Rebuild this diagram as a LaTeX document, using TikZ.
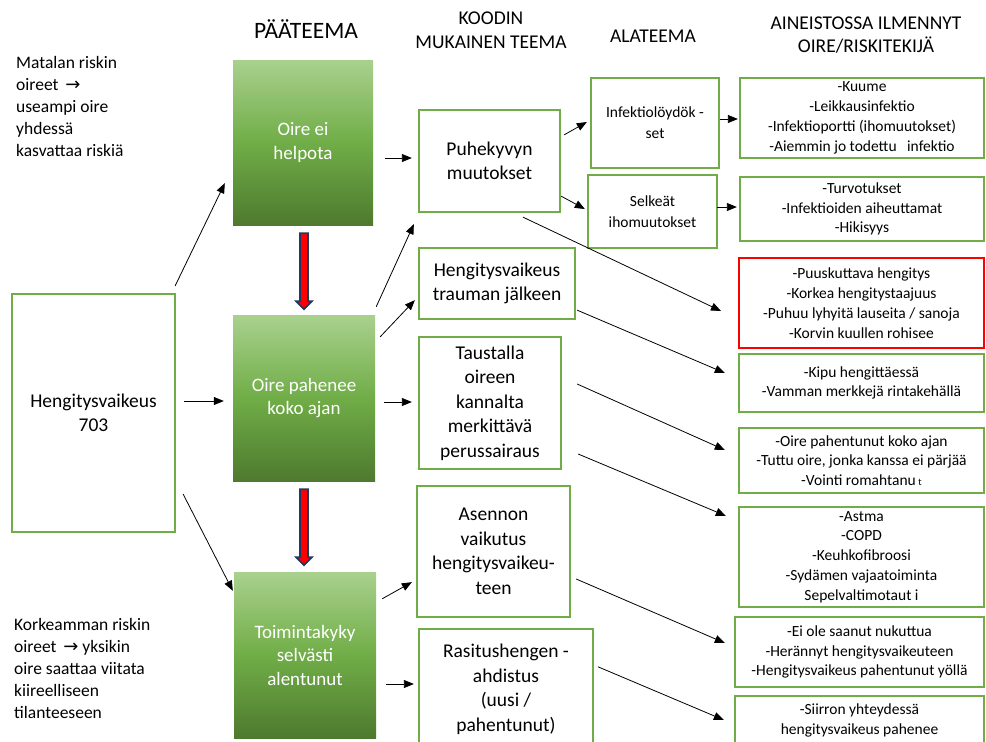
\documentclass[tikz,border=0pt]{standalone}
\usepackage{fontspec}
\setmainfont{Carlito}
\newfontfamily\symfont{DejaVu Sans}
\usetikzlibrary{arrows.meta,calc}
\definecolor{boxgreen}{HTML}{70AD47}
\definecolor{gtop}{HTML}{A9D18E}
\definecolor{gbot}{HTML}{4E7A2F}
\definecolor{navy}{HTML}{203864}
\newcommand{\rarr}{\,{\symfont\fontsize{18}{18}\selectfont →}}
\tikzset{
  gbox/.style={draw=boxgreen, line width=2.3pt, fill=white, align=center, inner sep=0pt},
  theme/.style={top color=gtop, bottom color=gbot, middle color=boxgreen, text=white,
    align=center, inner sep=0pt, font=\fontsize{19}{23.5}\selectfont},
  codebox/.style={gbox, font=\fontsize{19.5}{24.5}\selectfont},
  subbox/.style={gbox, font=\fontsize{15.5}{21}\selectfont},
  findbox/.style={gbox, font=\fontsize{15.5}{19.8}\selectfont},
  head/.style={align=center, inner sep=0pt, font=\fontsize{19.5}{23.5}\selectfont},
  note/.style={align=left, anchor=north west, inner sep=0pt, font=\fontsize{17.5}{22}\selectfont},
  arr/.style={-{Triangle[length=10pt,width=8pt]}, line width=0.8pt},
  blockarr/.style={fill=red, draw=navy, line width=1.6pt, line join=miter},
}
\begin{document}
\begin{tikzpicture}[x=1pt,y=-1pt]
\useasboundingbox (0,0) rectangle (986,742);
\clip (0,0) rectangle (986,742);

% column headings
\node[head, font=\fontsize{23.5}{26}\selectfont] (h1) at (306,29) {PÄÄTEEMA};
\node[head] (h2) at (491,30) {KOODIN\\MUKAINEN TEEMA};
\node[head] (h3) at (653,36) {ALATEEMA};
\node[head] (h4) at (866,35) {AINEISTOSSA ILMENNYT\\OIRE/RISKITEKIJÄ};

% side notes
\node[note] (n1) at (16,56) {Matalan riskin\\oireet \rarr\\useampi oire\\yhdessä\\kasvattaa riskiä};
\node[note] (n2) at (14,618) {Korkeamman riskin\\oireet \rarr{} yksikin\\oire saattaa viitata\\kiireelliseen\\tilanteeseen};

% starting point
\node[codebox, minimum width=163pt, minimum height=238pt] (lb) at (93.5,413) {Hengitysvaikeus\\703};

% main themes
\node[theme, minimum width=140pt, minimum height=165pt] (g1) at (303,142.5) {Oire ei\\helpota};
\node[theme, minimum width=142pt, minimum height=166pt] (g2) at (304,398) {Oire pahenee\\koko ajan};
\node[theme, minimum width=142pt, minimum height=166pt] (g3) at (305,655) {Toimintakyky\\selvästi\\alentunut};

% code based themes
\node[codebox, minimum width=141pt, minimum height=102pt] (c1) at (489.5,161) {Puhekyvyn\\muutokset};
\node[codebox, minimum width=156pt, minimum height=71pt] (c2) at (497,283.5) {Hengitysvaikeus\\trauman jälkeen};
\node[codebox, minimum width=142pt, minimum height=132pt] (c3) at (490,403) {Taustalla\\oireen\\kannalta\\merkittävä\\perussairaus};
\node[codebox, minimum width=153pt, minimum height=131pt] (c4) at (493.5,551.5) {Asennon\\vaikutus\\hengitysvaikeu-\\teen};
\node[codebox, minimum width=174pt, minimum height=121pt] (c5) at (506,689.5) {Rasitushengen -\\ahdistus\\(uusi /\\pahentunut)};

% sub themes
\node[subbox, minimum width=128pt, minimum height=90pt] (a1) at (655,123) {Infektiolöydök -\\set};
\node[subbox, minimum width=129pt, minimum height=73pt] (a2) at (652.5,211.5) {Selkeät\\ihomuutokset};

% symptoms and risk factors
\node[findbox, minimum width=244pt, minimum height=80pt] (r1) at (862,118)
  {-Kuume\\-Leikkausinfektio\\-Infektioportti (ihomuutokset)\\-Aiemmin jo todettu\ \ \ infektio};
\node[findbox, minimum width=244pt, minimum height=64pt] (r2) at (862,209)
  {-Turvotukset\\-Infektioiden aiheuttamat\\-Hikisyys};
\node[findbox, draw=red, line width=2pt, minimum width=245pt, minimum height=90pt] (r3) at (861.5,303)
  {-Puuskuttava hengitys\\-Korkea hengitystaajuus\\-Puhuu lyhyitä lauseita / sanoja\\-Korvin kuullen rohisee};
\node[findbox, minimum width=245pt, minimum height=58pt] (r4) at (861.5,383)
  {-Kipu hengittäessä\\-Vamman merkkejä rintakehällä};
\node[findbox, minimum width=245pt, minimum height=65pt] (r5) at (861.5,460.5)
  {-Oire pahentunut koko ajan\\-Tuttu oire, jonka kanssa ei pärjää\\-Vointi romahtanu\,{\fontsize{10}{10}\selectfont t}};
\node[findbox, minimum width=245pt, minimum height=100pt] (r6) at (861.5,557)
  {-Astma\\-COPD\\-Keuhkofibroosi\\-Sydämen vajaatoiminta\\Sepelvaltimotaut i};
\node[findbox, minimum width=249pt, minimum height=70pt] (r7) at (859.5,652)
  {-Ei ole saanut nukuttua\\-Herännyt hengitysvaikeuteen\\-Hengitysvaikeus pahentunut yöllä};
\node[findbox, minimum width=249pt, minimum height=66pt] (r8) at (859.5,729)
  {-Siirron yhteydessä\\hengitysvaikeus pahenee\\\mbox{}};

% block arrows between the main themes
\coordinate (ra) at ($(g1.south)+(1,8)$);
\coordinate (rb) at ($(g2.south)+(0,8)$);
\draw[blockarr] ($(ra)+(-4,0)$) -- ++(8,0) -- ++(0,68) -- ++(4,0) -- ++(-8,8) -- ++(-8,-8) -- ++(4,0) -- cycle;
\draw[blockarr] ($(rb)+(-4,0)$) -- ++(8,0) -- ++(0,68) -- ++(4,0) -- ++(-8,8) -- ++(-8,-8) -- ++(4,0) -- cycle;

% connectors
\draw[arr] ($(lb.north east)+(-1,-7)$) -- ($(g1.south west)+(-8,-42)$);
\draw[arr] ($(lb.east)+(8,-12)$) -- ($(g2.west)+(-9,3)$);
\draw[arr] ($(lb.south east)+(7,-39)$) -- ($(g3.north west)+(-1,19)$);

\draw[arr] ($(g1.east)+(12,15.5)$) -- ($(c1.west)+(-6,-3)$);
\draw[arr] ($(g2.north east)+(1,-8)$) -- ($(c1.south west)+(-4,11)$);
\draw[arr] ($(g2.north east)+(5,22)$) -- ($(c2.south west)+(-3,-20)$);
\draw[arr] ($(g2.east)+(9,4)$) -- ($(c3.west)+(-6,-1)$);
\draw[arr] ($(g3.north east)+(6,27)$) -- ($(c4.south west)+(-4,-36)$);
\draw[arr] ($(g3.east)+(10,29)$) -- ($(c5.west)+(-4,-5.5)$);

\draw[arr] ($(c1.north east)+(3,26)$) -- ($(a1.west)+(-3,-1)$);
\draw[arr] ($(c1.south east)+(0,-17)$) -- ($(a2.west)+(-2,-2.5)$);
\draw[arr] ($(a1.east)+(0,-4)$) -- ($(r1.west)+(-1,1)$);
\draw[arr] ($(a2.east)+(-1,-4.5)$) -- ($(r2.west)+(-2,-2)$);

\draw[arr] ($(c1.south)+(33.5,4)$) -- ($(r3.west)+(-17,8)$);
\draw[arr] ($(c2.south east)+(1,-10)$) -- ($(r4.west)+(-13,-10)$);
\draw[arr] ($(c3.east)+(15,-19)$) -- ($(r5.west)+(-13,-10.5)$);
\draw[arr] ($(c3.east)+(16,51)$) -- ($(r6.north west)+(-12,10)$);
\draw[arr] ($(c4.east)+(5,27.5)$) -- ($(r7.west)+(-9,-9)$);
\draw[arr] ($(c5.north east)+(4,39)$) -- ($(r8.west)+(-10,-9)$);
\end{tikzpicture}
\end{document}
